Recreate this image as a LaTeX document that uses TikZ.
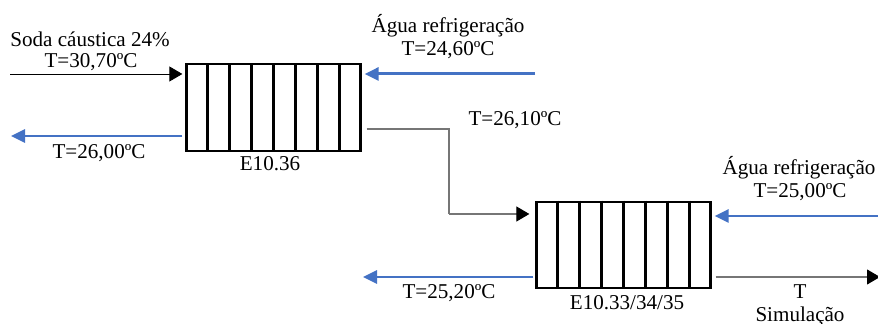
\documentclass[tikz,border=0pt]{standalone}
\usepackage{fontspec}
\setmainfont{Liberation Serif}
\usepackage{xcolor}
\usepackage{tikz}
\usetikzlibrary{arrows.meta,calc}
\definecolor{cwblue}{RGB}{68,114,196}
\definecolor{lngray}{RGB}{118,118,118}
\tikzset{
  hxbox/.style={draw=black, line width=1.3pt, fill=white, minimum width=3.48cm,
    minimum height=1.73cm, inner sep=0pt},
  hxlabel/.style={inner sep=0pt, font=\fontsize{12pt}{14pt}\selectfont, align=center},
  cwarrow/.style={-{Triangle[length=0.28cm,width=0.26cm]}, line width=1.7pt, draw=cwblue},
  flowarrow/.style={-{Triangle[length=0.26cm,width=0.30cm]}, line width=0.5pt, draw=black},
  procline/.style={line width=0.6pt, draw=lngray}
}
\begin{document}
\begin{tikzpicture}
  \useasboundingbox (0cm,0cm) rectangle (17.56cm,-6.48cm);
  \node[hxbox] (eA) at (5.47cm,-2.15cm) {};
  \node[hxbox] (eB) at (12.47cm,-4.90cm) {};
  \foreach \n in {eA,eB}
    \foreach \i in {1,...,7}
      \draw[line width=1.3pt] ($(\n.north west)!\i/8!(\n.north east)$) -- ($(\n.south west)!\i/8!(\n.south east)$);
  \node[hxlabel] (lSoda) at (1.80cm,-0.78cm) {Soda cáustica 24\%};
  \node[hxlabel] (lTin) at (1.82cm,-1.24cm) {T=30,70ºC};
  \node[hxlabel] (lTout) at (1.98cm,-3.06cm) {T=26,00ºC};
  \node[hxlabel] (lEA) at (5.40cm,-3.28cm) {E10.36};
  \node[hxlabel] (lAguaA) at (8.96cm,-0.52cm) {Água refrigeração};
  \node[hxlabel] (lTcwA) at (8.96cm,-1.00cm) {T=24,60ºC};
  \node[hxlabel] (lTmid) at (10.30cm,-2.40cm) {T=26,10ºC};
  \node[hxlabel] (lAguaB) at (15.98cm,-3.36cm) {Água refrigeração};
  \node[hxlabel] (lTcwB) at (16.00cm,-3.84cm) {T=25,00ºC};
  \node[hxlabel] (lTcwOut) at (8.98cm,-5.86cm) {T=25,20ºC};
  \node[hxlabel] (lEB) at (12.54cm,-6.06cm) {E10.33/34/35};
  \node[hxlabel] (lT) at (16.00cm,-5.84cm) {T};
  \node[hxlabel] (lSim) at (16.00cm,-6.32cm) {Simulação};
  \coordinate (cSodaIn) at (0.20cm,-1.48cm);
  \coordinate (cSodaOut) at (0.22cm,-2.72cm);
  \coordinate (cCwA) at (10.70cm,-1.48cm);
  \coordinate (cCwB) at (17.56cm,-4.32cm);
  \coordinate (cCwOut) at (7.26cm,-5.54cm);
  \coordinate (cSim) at (17.60cm,-5.54cm);
  \coordinate (kA) at (8.98cm,-2.58cm);
  \coordinate (kB) at (8.98cm,-4.28cm);
  \draw[flowarrow, shorten >=0.06cm] (cSodaIn) -- (cSodaIn -| eA.west);
  \draw[cwarrow, shorten >=0.06cm] (cCwA) -- (cCwA -| eA.east);
  \draw[cwarrow, shorten <=0.06cm] (cSodaOut -| eA.west) -- (cSodaOut);
  \draw[procline, shorten <=0.10cm] (eA.east |- kA) -- (kA) -- (kB);
  \draw[procline, -{Triangle[length=0.26cm,width=0.30cm,color=black]}, shorten >=0.12cm] (kB) -- (eB.west |- kB);
  \draw[cwarrow, shorten >=0.06cm] (cCwB) -- (cCwB -| eB.east);
  \draw[cwarrow, shorten <=0.04cm] (cCwOut -| eB.west) -- (cCwOut);
  \draw[procline, -{Triangle[length=0.26cm,width=0.30cm,color=black]}, shorten <=0.08cm] (eB.east |- cSim) -- (cSim);
\end{tikzpicture}
\end{document}
